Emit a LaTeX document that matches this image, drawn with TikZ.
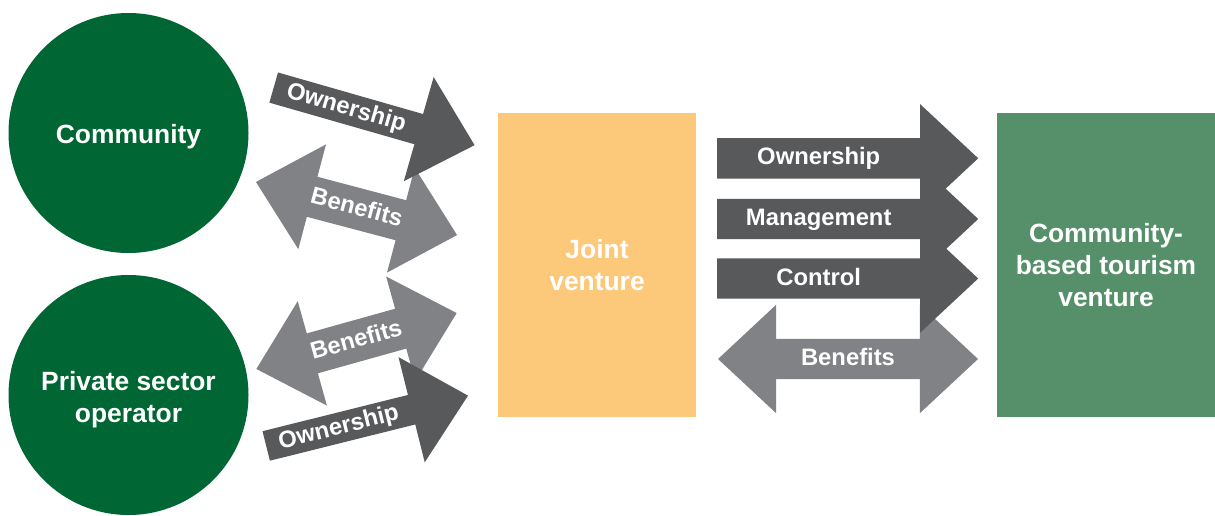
\documentclass[tikz,border=0pt]{standalone}
\usepackage{fontspec}
\setmainfont{Liberation Sans}
\usetikzlibrary{shapes.arrows,calc}
\definecolor{partygreen}{HTML}{006633}
\definecolor{jvorange}{HTML}{FCC97B}
\definecolor{cbtgreen}{HTML}{56906A}
\definecolor{arrowdark}{HTML}{58595B}
\definecolor{arrowgrey}{HTML}{808285}

\begin{document}
\begin{tikzpicture}[x=1pt, y=1pt,
  party/.style={circle, fill=partygreen, minimum size=240pt, inner sep=0pt},
  partytext/.style={text=white, align=center, inner sep=0pt,
    font=\bfseries\fontsize{26.4pt}{32pt}\selectfont},
  venture/.style={rectangle, minimum height=304pt, inner sep=0pt,
    text=white, align=center, font=\bfseries\fontsize{26.4pt}{32pt}\selectfont},
  give/.style={single arrow, fill=arrowdark, single arrow tip angle=86, minimum width=108pt,
    inner xsep=0pt, text height=0pt, text depth=0pt, anchor=tail},
  share/.style={double arrow, fill=arrowgrey, double arrow tip angle=86, minimum width=108pt,
    inner xsep=0pt, text height=0pt, text depth=0pt},
  tag/.style={text=white, inner sep=0pt, text height=13pt, text depth=0pt,
    font=\bfseries\fontsize{23.8pt}{28pt}\selectfont}]
  \useasboundingbox (0,0) rectangle (1215,-515);

  \node[party] (community) at (128.5,-133) {};
  \node[party] (operator) at (128.5,-395) {};
  \node[partytext] (communitytext) at ([yshift=-4pt]community.center) {Community};
  \node[partytext] (operatortext) at ([yshift=-4.5pt]operator.center) {Private sector\\operator};

  \node[venture, fill=jvorange, minimum width=198pt] (joint) at (597,-265) {Joint\\venture};
  \node[venture, fill=cbtgreen, minimum width=218pt] (cbt) at (1106,-265) {Community-\\based tourism\\venture};

  % benefits flowing back
  \node[share, inner ysep=20.5pt, double arrow head extend=33.5pt, minimum height=208pt, rotate=-14.8] (benefitsA) at (356.5,-208.5) {};
  \node[share, inner ysep=20.5pt, double arrow head extend=33.5pt, minimum height=208pt, rotate=15.6] (benefitsB) at (356.5,-341) {};
  \node[share, inner ysep=20pt, double arrow head extend=34pt, minimum height=260pt] (benefitsC) at (848,-359) {};
  \node[tag, rotate=-14.8] at (benefitsA.center) {Benefits};
  \node[tag, rotate=15.6] at (benefitsB.center) {Benefits};
  \node[tag] at (benefitsC.center) {Benefits};

  % ownership into the joint venture
  \node[give, inner ysep=15.5pt, single arrow head extend=38.5pt, minimum height=209pt, rotate=-16] (ownershipA) at (273.5,-87.5) {};
  \node[give, inner ysep=15pt, single arrow head extend=39pt, minimum height=208pt, rotate=14] (ownershipB) at (266,-446) {};
  \node[tag, rotate=-16] at ($(ownershipA.tail)!0.361!(ownershipA.tip)$) {Ownership};
  \node[tag, rotate=14] at ($(ownershipB.tail)!0.36!(ownershipB.tip)$) {Ownership};

  % joint venture to community-based tourism venture
  \node[give, inner ysep=20pt, single arrow head extend=34pt, minimum height=261pt] (ownershipC) at (717,-158.3) {};
  \node[give, inner ysep=20pt, single arrow head extend=34pt, minimum height=261pt] (management) at (717,-219) {};
  \node[give, inner ysep=20pt, single arrow head extend=34pt, minimum height=261pt] (control) at (717,-278.5) {};
  \node[tag] at ($(ownershipC.tail)!0.389!(ownershipC.tip)$) {Ownership};
  \node[tag] at ($(management.tail)!0.389!(management.tip)$) {Management};
  \node[tag] at ($(control.tail)!0.389!(control.tip)$) {Control};
\end{tikzpicture}
\end{document}
